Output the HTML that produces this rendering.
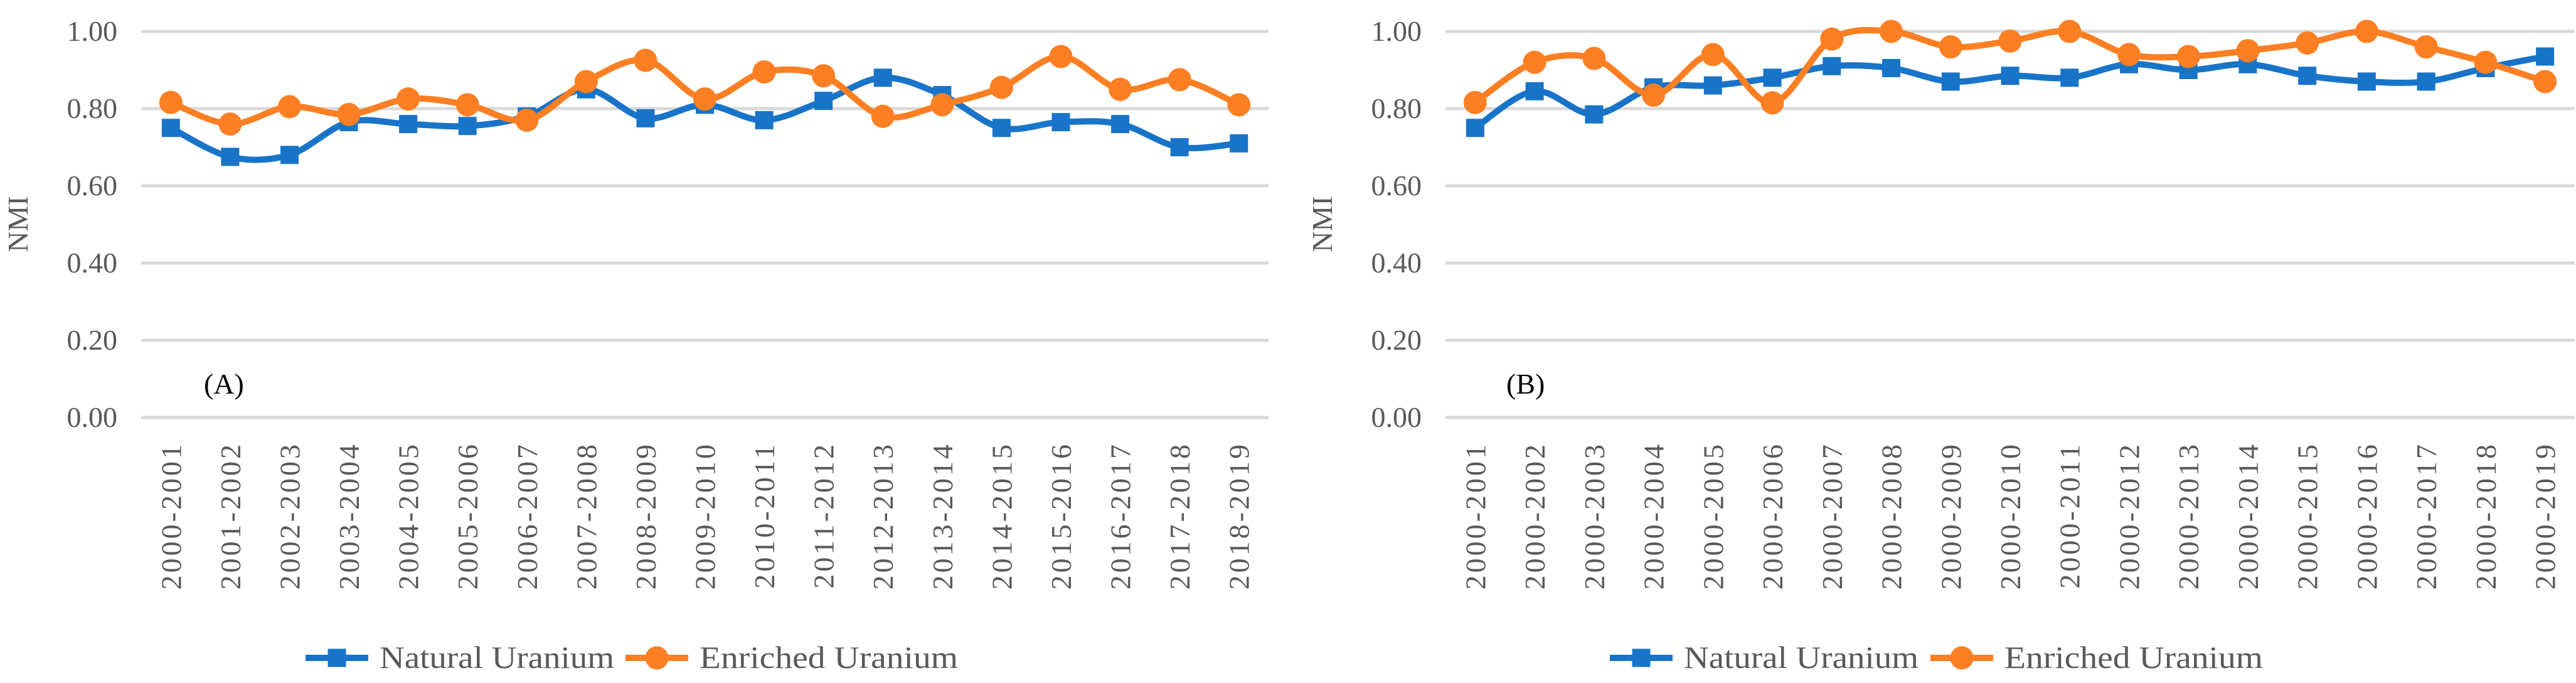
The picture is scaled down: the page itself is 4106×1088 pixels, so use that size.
<!DOCTYPE html>
<html><head><meta charset="utf-8"><style>
html,body{margin:0;padding:0;background:#fff;}
svg{display:block;}
text{font-family:"Liberation Serif",serif;}
</style></head><body>
<svg id="chart" width="4106" height="1088" viewBox="0 0 4106 1088" xmlns="http://www.w3.org/2000/svg"></svg>
<script>
const catsA = ["2000-2001","2001-2002","2002-2003","2003-2004","2004-2005","2005-2006","2006-2007","2007-2008","2008-2009","2009-2010","2010-2011","2011-2012","2012-2013","2013-2014","2014-2015","2015-2016","2016-2017","2017-2018","2018-2019"];
const catsB = ["2000-2001","2000-2002","2000-2003","2000-2004","2000-2005","2000-2006","2000-2007","2000-2008","2000-2009","2000-2010","2000-2011","2000-2012","2000-2013","2000-2014","2000-2015","2000-2016","2000-2017","2000-2018","2000-2019"];
const naturalA = [0.75,0.675,0.68,0.765,0.76,0.755,0.78,0.85,0.775,0.81,0.77,0.82,0.88,0.835,0.75,0.765,0.76,0.70,0.71];
const enrichedA = [0.816,0.76,0.805,0.785,0.825,0.81,0.77,0.87,0.925,0.825,0.895,0.885,0.78,0.81,0.855,0.935,0.85,0.875,0.81];
const naturalB = [0.75,0.845,0.785,0.855,0.86,0.88,0.91,0.905,0.87,0.885,0.88,0.915,0.9,0.915,0.885,0.87,0.87,0.905,0.935];
const enrichedB = [0.816,0.92,0.93,0.835,0.94,0.815,0.98,1.0,0.96,0.975,1.0,0.94,0.935,0.95,0.97,1.0,0.96,0.92,0.87];
const yTicks = [0,0.2,0.4,0.6,0.8,1.0];
const yTickLabels = ["0.00","0.20","0.40","0.60","0.80","1.00"];
const seriesNames = ["Natural Uranium","Enriched Uranium"];

const NS="http://www.w3.org/2000/svg";
const svg=document.getElementById('chart');
const BLUE="#1874C8", ORANGE="#FD7F23";
function mk(tag,attrs,parent){const e=document.createElementNS(NS,tag);for(const k in attrs)e.setAttribute(k,attrs[k]);(parent||svg).appendChild(e);return e;}
function smooth(pts){
  let d="M"+pts[0][0]+","+pts[0][1];
  for(let i=0;i<pts.length-1;i++){
    const p0=pts[Math.max(0,i-1)],p1=pts[i],p2=pts[i+1],p3=pts[Math.min(pts.length-1,i+2)];
    const t=1/6;
    d+=" C"+(p1[0]+(p2[0]-p0[0])*t)+","+(p1[1]+(p2[1]-p0[1])*t)+" "+(p2[0]-(p3[0]-p1[0])*t)+","+(p2[1]-(p3[1]-p1[1])*t)+" "+p2[0]+","+p2[1];
  }
  return d;
}
function drawChart(cfg){
  const g=mk('g',{});
  
  
  const y0=665,y1=50;
  const yScale=v=>y0-(y0-y1)*v;
  const n=cfg.cats.length;
  const band=(cfg.right-cfg.left)/n;
  const xScale=i=>cfg.left+band*(i+0.5);
  yTicks.forEach((t,i)=>{
    const l=mk('line',{x1:cfg.left,x2:cfg.right,y1:yScale(t),y2:yScale(t),stroke:"#d9d9d9","stroke-width":5},g);
    
    
    const tx=mk('text',{x:cfg.left-38,y:yScale(t)+15,"text-anchor":"end","font-size":46,fill:"#595959"},g);
    
    
    tx.textContent=yTickLabels[i];
  });
  const yt=mk('text',{x:0,y:0,transform:"translate("+cfg.ytx+",357) rotate(-90)","text-anchor":"middle","font-size":46,fill:"#595959"},g);
  
  
  yt.textContent="NMI";
  cfg.cats.forEach((c,i)=>{
    const tx=mk('text',{x:0,y:0,transform:"translate("+(xScale(i)+16)+",704) rotate(-90)","text-anchor":"end","font-size":46,"letter-spacing":4,fill:"#595959"},g);
    
    
    tx.textContent=c;
  });
  const pl=mk('text',{x:cfg.panelX,y:627,"font-size":46,fill:"#000"},g);
  
  
  pl.textContent=cfg.panel;
  [[cfg.nat,BLUE,'square','natural-uranium-line'],[cfg.enr,ORANGE,'circle','enriched-uranium-line']].forEach(([vals,col,shape,nm])=>{
    const pts=vals.map((v,i)=>[xScale(i),yScale(v)]);
    const p=mk('path',{d:smooth(pts),fill:"none",stroke:col,"stroke-width":10,"stroke-linejoin":"round"},g);
    
    
    pts.forEach(pt=>{
      let m;
      if(shape==='square') m=mk('rect',{x:pt[0]-14.5,y:pt[1]-14.5,width:29,height:29,fill:col},g);
      else m=mk('circle',{cx:pt[0],cy:pt[1],r:18.5,fill:col},g);
      
      
    });
  });
  const lg=[[cfg.leg[0],BLUE,'square',seriesNames[0],374],[cfg.leg[1],ORANGE,'circle',seriesNames[1],412]];
  lg.forEach(([x,col,shape,label,w])=>{
    const e=mk('g',{},g);
    
    
    mk('line',{x1:x,x2:x+100,y1:1048,y2:1048,stroke:col,"stroke-width":10},e);
    if(shape==='square') mk('rect',{x:x+35.5,y:1033.5,width:29,height:29,fill:col},e);
    else mk('circle',{cx:x+50,cy:1048,r:18.5,fill:col},e);
    const t=mk('text',{x:x+118,y:1064,"font-size":50,"font-family":"Liberation Serif, serif",textLength:w,lengthAdjust:"spacingAndGlyphs",fill:"#595959"},e);
    t.textContent=label;
  });
}
drawChart({name:'chart-a',cats:catsA,nat:naturalA,enr:enrichedA,left:225,right:2022,ytx:44,panel:"(A)",panelX:325,leg:[487,997]});
drawChart({name:'chart-b',cats:catsB,nat:naturalB,enr:enrichedB,left:2304,right:4104,ytx:2123,panel:"(B)",panelX:2401,leg:[2566,3077]});
</script>
</body></html>
